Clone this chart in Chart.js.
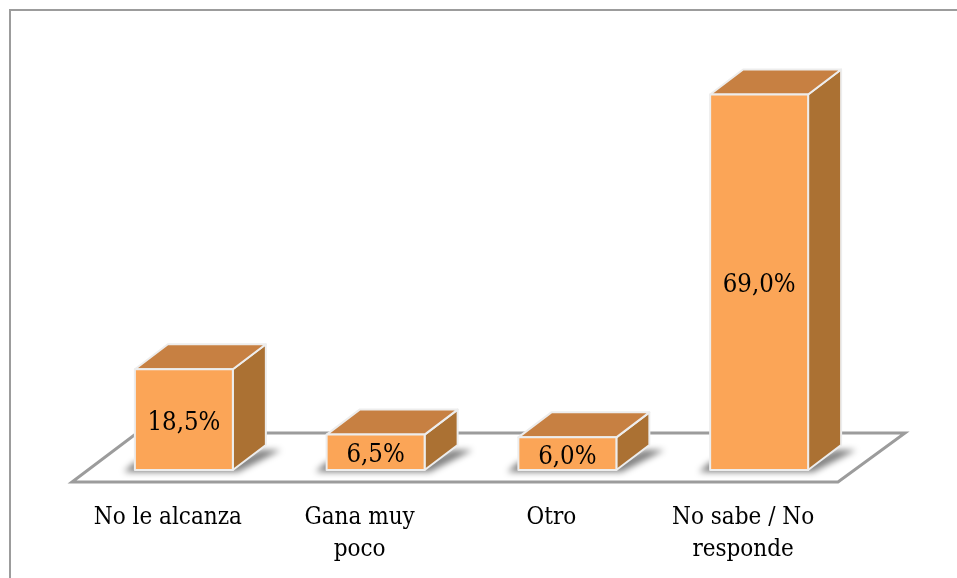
<!DOCTYPE html>
<html>
<head>
<meta charset="utf-8">
<script src="https://cdn.jsdelivr.net/npm/chart.js@4"></script>
<style>
  html, body { margin: 0; padding: 0; background: #fff; }
  #wrap { position: relative; width: 957px; height: 578px; overflow: hidden; }
</style>
</head>
<body>
<div id="wrap"><canvas id="chart" width="957" height="578"></canvas></div>
<script>
const categories = [['No le alcanza'], ['Gana muy', 'poco'], ['Otro'], ['No sabe / No', 'responde']];
const values = [18.5, 6.5, 6.0, 69.0];
const valueLabels = ['18,5%', '6,5%', '6,0%', '69,0%'];

const FONT = '"DejaVu Serif Condensed", "DejaVu Serif", serif';
const DX = 33, DY = -25;

function poly(ctx, pts, fill, stroke) {
  ctx.beginPath();
  pts.forEach((p, i) => i ? ctx.lineTo(p[0], p[1]) : ctx.moveTo(p[0], p[1]));
  ctx.closePath();
  if (fill) { ctx.fillStyle = fill; ctx.fill(); }
  if (stroke) { ctx.strokeStyle = stroke; ctx.lineWidth = 2; ctx.lineJoin = 'round'; ctx.stroke(); }
}

// frame and floor go under the bars
const floorPlugin = {
  id: 'floor',
  beforeDatasetsDraw(chart) {
    const { ctx, chartArea: a, scales: { y } } = chart;
    const base = y.getPixelForValue(0);
    ctx.save();
    // the frame only shows on the top and left in the reference
    ctx.strokeStyle = '#9c9c9c';
    ctx.lineWidth = 2;
    ctx.beginPath();
    ctx.moveTo(10, 578);
    ctx.lineTo(10, 10);
    ctx.lineTo(957, 10);
    ctx.stroke();
    ctx.lineWidth = 3;
    ctx.lineJoin = 'miter';
    ctx.beginPath();
    ctx.moveTo(a.left - 16, base + 12);
    ctx.lineTo(a.right - 17, base + 12);
    ctx.lineTo(a.right + 50, base - 37);
    ctx.lineTo(a.left + 49, base - 37);
    ctx.closePath();
    ctx.stroke();
    ctx.restore();
  }
};

// turns each flat bar into a box, sizes come from the bar element
const boxPlugin = {
  id: 'box',
  afterDatasetsDraw(chart) {
    const { ctx, scales: { y } } = chart;
    const base = y.getPixelForValue(0);
    chart.getDatasetMeta(0).data.forEach((bar, i) => {
      const l = bar.x - bar.width / 2, r = bar.x + bar.width / 2, t = bar.y;
      ctx.save();
      ctx.save();
      ctx.filter = 'blur(3px)';
      ctx.fillStyle = 'rgba(0,0,0,0.5)';
      ctx.beginPath();
      ctx.moveTo(l - 11, base + 2);
      ctx.lineTo(r + 5, base + 2);
      ctx.lineTo(r + DX + 15, base + DY + 5);
      ctx.lineTo(r + DX - 5, base + DY + 5);
      ctx.lineTo(r, base - 8);
      ctx.lineTo(l, base - 8);
      ctx.closePath();
      ctx.fill();
      ctx.restore();
      poly(ctx, [[r, t], [r + DX, t + DY], [r + DX, base + DY], [r, base]], '#ab7133', '#ededed');
      poly(ctx, [[l, t], [l + DX, t + DY], [r + DX, t + DY], [r, t]], '#c78042', '#ededed');
      poly(ctx, [[l, t], [r, t], [r, base], [l, base]], '#fba557', '#ededed');
      ctx.fillStyle = '#000';
      ctx.font = '25.5px ' + FONT;
      ctx.textAlign = 'center';
      ctx.textBaseline = 'middle';
      ctx.fillText(valueLabels[i], bar.x, (t + base) / 2 + 3.5);
      ctx.restore();
    });
  }
};

new Chart(document.getElementById('chart'), {
  type: 'bar',
  data: {
    labels: categories,
    datasets: [{
      data: values,
      backgroundColor: '#fba557',
      barPercentage: 0.511,
      categoryPercentage: 1
    }]
  },
  options: {
    responsive: false,
    animation: false,
    layout: { padding: { left: 88, right: 102, top: 89, bottom: 0 } },
    plugins: { legend: { display: false }, tooltip: { enabled: false } },
    scales: {
      x: {
        grid: { display: false },
        border: { display: false },
        afterFit: s => { s.height = 108; },
        ticks: {
          color: '#000',
          padding: 24,
          labelOffset: -16,
          maxRotation: 0,
          autoSkip: false,
          font: { family: FONT, size: 24, lineHeight: 1.34 }
        }
      },
      y: { display: false, min: 0, max: 70 }
    }
  },
  plugins: [floorPlugin, boxPlugin]
});
</script>
</body>
</html>
